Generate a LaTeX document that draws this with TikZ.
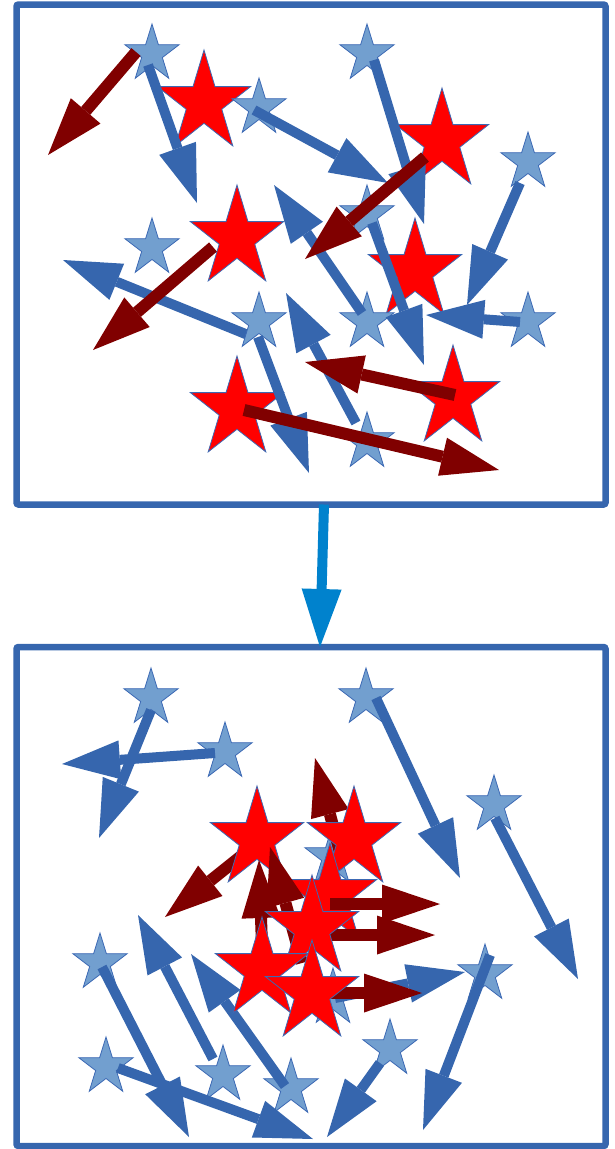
\documentclass[tikz,border=0pt]{standalone}
\usetikzlibrary{arrows.meta}
\definecolor{boxblue}{RGB}{54,102,174}
\definecolor{arrblue}{RGB}{54,102,174}
\definecolor{starfill}{RGB}{114,159,207}
\definecolor{staredge}{RGB}{60,105,180}
\definecolor{darkred}{RGB}{128,0,0}
\definecolor{connblue}{RGB}{0,130,205}
\tikzset{
  framebox/.style={draw=boxblue, line width=6.5pt, rounded corners=2pt, minimum width=589pt, minimum height=500pt, inner sep=0pt, outer sep=0pt},
  barr/.style={draw=arrblue, line width=10pt, -{Triangle[length=58pt,width=39pt,line width=0pt]}},
  rarr/.style={draw=darkred, line width=12pt, -{Triangle[length=58pt,width=39pt,line width=0pt]}},
  carr/.style={draw=connblue, line width=10pt, -{Triangle[length=58pt,width=40pt,line width=0pt]}},
  bstar/.style={fill=starfill, draw=staredge, line width=0.8pt, line join=miter},
  rstar/.style={fill=red, draw=staredge, line width=0.8pt, line join=miter},
}
\newcommand\BStar[2]{\begin{scope}[shift={(#1,#2)},xscale=28.5,yscale=30]
\path[bstar] (270:1)--(306:0.382)--(342:1)--(18:0.382)--(54:1)--(90:0.382)--(126:1)--(162:0.382)--(198:1)--(234:0.382)--cycle;\end{scope}}
\newcommand\RStar[2]{\begin{scope}[shift={(#1,#2)},xscale=49,yscale=53]
\path[rstar] (270:1)--(306:0.382)--(342:1)--(18:0.382)--(54:1)--(90:0.382)--(126:1)--(162:0.382)--(198:1)--(234:0.382)--cycle;\end{scope}}
\begin{document}
\begin{tikzpicture}[x=1pt,y=-1pt]
\useasboundingbox (0,0) rectangle (614,1149);
% frames
\node[framebox, anchor=north west] (top) at (16.5,4.5) {};
\node[framebox, anchor=north west, minimum height=499pt] (bot) at (16.5,647) {};
\draw[carr] ([xshift=13pt]top.south) -- ([xshift=9pt]bot.north);

% ---------- top box ----------
\draw[barr] (248,335) -- (63,260);
\RStar{204}{103}
\RStar{442}{141}
\RStar{237}{238}
\RStar{415}{271}
\RStar{237}{409}
\RStar{453}{398}
\BStar{152}{54}
\BStar{259}{108}
\BStar{367}{54}
\BStar{528}{162}
\BStar{152}{248}
\BStar{259}{322}
\BStar{367}{322}
\BStar{528}{322}
\BStar{367}{215}
\BStar{367}{442}
\draw[barr] (148,65) -- (197,203);
\draw[barr] (254,110) -- (388,183);
\draw[barr] (374,60) -- (424,224);
\draw[barr] (520,183) -- (467,305);
\draw[barr] (362,313) -- (274,185);
\draw[barr] (372,223) -- (424,365);
\draw[barr] (520,322) -- (426,315);
\draw[barr] (356,423) -- (286,293);
\draw[barr] (258,337) -- (309,473);
\draw[rarr] (136,52) -- (48,155);
\draw[rarr] (425,157) -- (305,259);
\draw[rarr] (213,247) -- (93,350);
\draw[rarr] (455,395) -- (305,362);
\draw[rarr] (244,410) -- (499,470);

% ---------- bottom box ----------
\BStar{151}{698}
\BStar{225}{752}
\BStar{366}{698}
\BStar{494}{805}
\BStar{100}{963}
\BStar{485}{974}
\BStar{106}{1067}
\BStar{223}{1075}
\BStar{291}{1088}
\BStar{390}{1049}
\BStar{332}{857}
\BStar{333}{998}
\draw[barr] (151,710) -- (99,838);
\draw[barr] (215,753) -- (62,764);
\draw[barr] (376,698) -- (460,878);
\draw[barr] (495,818) -- (578,979);
\draw[barr] (213,1059) -- (138,915);
\draw[barr] (285,1086) -- (191,954);
\draw[barr] (102,967) -- (189,1137);
\draw[barr] (118,1068) -- (313,1139);
\draw[barr] (380,1063) -- (327,1137);
\draw[barr] (490,955) -- (423,1130);
\draw[barr] (335,998) -- (465,972);
\draw[rarr] (255,845) -- (165,917);
\draw[rarr] (341,856) -- (315,758);
\RStar{257}{839}
\RStar{354}{839}
\RStar{330}{896}
\draw[rarr] (302,963) -- (270,847);
\draw[rarr] (263,975) -- (259,860);
\draw[rarr] (330,904) -- (440,904);
\draw[rarr] (320,935) -- (435,935);
\draw[rarr] (310,993) -- (422,993);
\RStar{312}{928}
\RStar{262}{970}
\RStar{312}{993}
\end{tikzpicture}
\end{document}
